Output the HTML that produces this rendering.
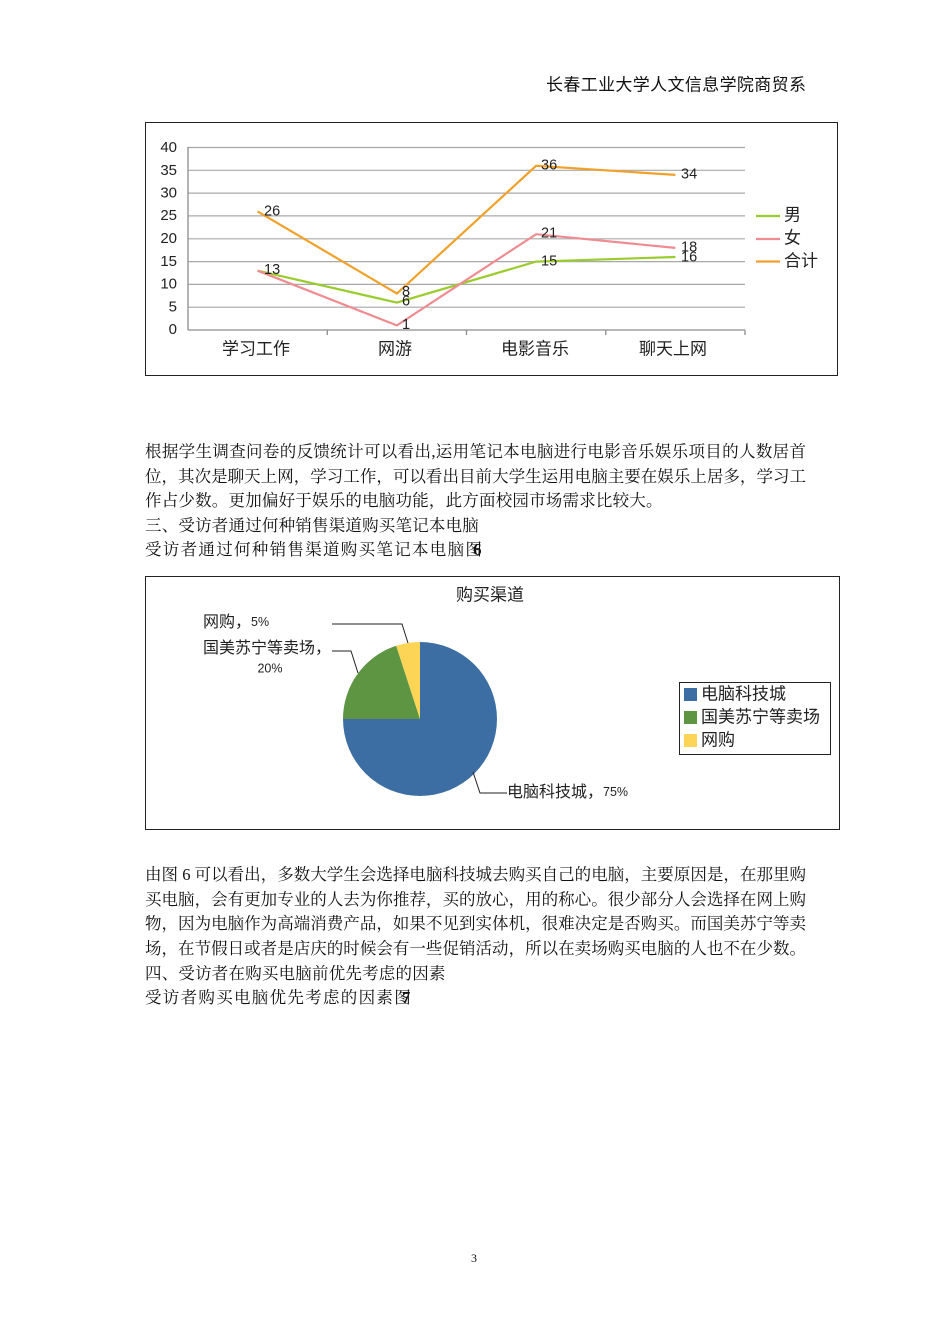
<!DOCTYPE html>
<html>
<head>
<meta charset="utf-8">
<style>
html,body{margin:0;padding:0;background:#fff;}
body{width:950px;height:1344px;position:relative;overflow:hidden;}
.ln{position:absolute;left:145px;font-family:"Liberation Serif","Noto Serif CJK SC",serif;font-size:16.5px;line-height:22px;color:#111;white-space:nowrap;letter-spacing:0.2px;}
.j{width:661px;text-align:justify;text-align-last:justify;white-space:normal;letter-spacing:0;}
.cap{letter-spacing:1.3px;}
.pg{position:absolute;left:471px;top:1251px;font-family:"Liberation Serif",serif;font-size:12px;color:#111;}
svg{position:absolute;left:0;top:0;}
.ov{display:inline-block;margin-left:-10px;font-weight:bold;font-family:"Liberation Serif",serif;letter-spacing:0;}
</style>
</head>
<body>

<svg width="950" height="1344" viewBox="0 0 950 1344" xmlns="http://www.w3.org/2000/svg">
  <text x="546" y="86" textLength="260" lengthAdjust="spacing" font-family="Liberation Sans, Noto Sans CJK SC, sans-serif" font-size="17" fill="#111" dominant-baseline="middle">长春工业大学人文信息学院商贸系</text>

  <!-- Line chart box -->
  <rect x="145.5" y="122.5" width="692" height="253" fill="#fff" stroke="#222" stroke-width="1"/>
  <g stroke="#a8a8a8" stroke-width="1.2">
    <line x1="188" y1="147.5" x2="745" y2="147.5"/>
    <line x1="188" y1="170.3" x2="745" y2="170.3"/>
    <line x1="188" y1="193.1" x2="745" y2="193.1"/>
    <line x1="188" y1="215.9" x2="745" y2="215.9"/>
    <line x1="188" y1="238.8" x2="745" y2="238.8"/>
    <line x1="188" y1="261.6" x2="745" y2="261.6"/>
    <line x1="188" y1="284.4" x2="745" y2="284.4"/>
    <line x1="188" y1="307.2" x2="745" y2="307.2"/>
  </g>
  <g stroke="#8c8c8c" stroke-width="1.3">
    <line x1="188" y1="147" x2="188" y2="330"/>
    <line x1="188" y1="330" x2="745" y2="330"/>
    <line x1="327.3" y1="330" x2="327.3" y2="335"/>
    <line x1="466.5" y1="330" x2="466.5" y2="335"/>
    <line x1="605.8" y1="330" x2="605.8" y2="335"/>
    <line x1="745" y1="330" x2="745" y2="335"/>
  </g>
  <g font-family="Liberation Sans, sans-serif" font-size="15" fill="#222" text-anchor="end" dominant-baseline="middle">
    <text x="177" y="148">40</text>
    <text x="177" y="171">35</text>
    <text x="177" y="193.5">30</text>
    <text x="177" y="216">25</text>
    <text x="177" y="239">20</text>
    <text x="177" y="262">15</text>
    <text x="177" y="284.5">10</text>
    <text x="177" y="307.5">5</text>
    <text x="177" y="330">0</text>
  </g>
  <g font-family="Liberation Sans, Noto Sans CJK SC, sans-serif" font-size="17" fill="#222" text-anchor="middle" dominant-baseline="middle">
    <text x="256" y="350">学习工作</text>
    <text x="395" y="350">网游</text>
    <text x="535" y="350">电影音乐</text>
    <text x="673" y="350">聊天上网</text>
  </g>
  <polyline fill="none" stroke="#9BCC2E" stroke-width="2.2" points="257.6,270.7 396.9,302.6 536.1,261.6 675.4,257"/>
  <polyline fill="none" stroke="#EF8C92" stroke-width="2.2" points="257.6,270.7 396.9,325.4 536.1,234.2 675.4,247.9"/>
  <polyline fill="none" stroke="#F0A12A" stroke-width="2.2" points="257.6,211.4 396.9,293.5 536.1,165.8 675.4,174.9"/>
  <g font-family="Liberation Sans, sans-serif" font-size="14.5" fill="#222" dominant-baseline="middle">
    <text x="264" y="211.5">26</text>
    <text x="264" y="270">13</text>
    <text x="402" y="292">8</text>
    <text x="402" y="301.5">6</text>
    <text x="402" y="325">1</text>
    <text x="541" y="165.5">36</text>
    <text x="541" y="233.5">21</text>
    <text x="541" y="261.5">15</text>
    <text x="681" y="174.5">34</text>
    <text x="681" y="247.5">18</text>
    <text x="681" y="257.5">16</text>
  </g>
  <line x1="756" y1="216" x2="780" y2="216" stroke="#9BCC2E" stroke-width="2.2"/>
  <line x1="756" y1="239" x2="780" y2="239" stroke="#EF8C92" stroke-width="2.2"/>
  <line x1="756" y1="261.5" x2="780" y2="261.5" stroke="#F0A12A" stroke-width="2.2"/>
  <g font-family="Liberation Sans, Noto Sans CJK SC, sans-serif" font-size="17" fill="#222" dominant-baseline="middle">
    <text x="784" y="216">男</text>
    <text x="784" y="239">女</text>
    <text x="784" y="262">合计</text>
  </g>

  <!-- Pie chart box -->
  <rect x="145.5" y="576.5" width="694" height="253" fill="#fff" stroke="#222" stroke-width="1"/>
  <text x="490" y="596" font-family="Liberation Sans, Noto Sans CJK SC, sans-serif" font-size="17" fill="#222" text-anchor="middle" dominant-baseline="middle">购买渠道</text>
  <path d="M420,719 L420,642 A77,77 0 1,1 343,719 Z" fill="#3C6EA3"/>
  <path d="M420,719 L343,719 A77,77 0 0,1 396.2,645.8 Z" fill="#5D9542"/>
  <path d="M420,719 L396.2,645.8 A77,77 0 0,1 420,642 Z" fill="#FDD556"/>
  <g fill="none" stroke="#222" stroke-width="1">
    <polyline points="332,624 402,624 408,643"/>
    <polyline points="332,651 351,651 358,673"/>
    <polyline points="473,772 480,793 507,793"/>
  </g>
  <g font-family="Liberation Sans, Noto Sans CJK SC, sans-serif" fill="#222" dominant-baseline="middle">
    <text x="203" y="623" font-size="16">网购，<tspan font-size="12.5">5%</tspan></text>
    <text x="203" y="649" font-size="16">国美苏宁等卖场，</text>
    <text x="270" y="669" font-size="12.5" text-anchor="middle">20%</text>
    <text x="507" y="793" font-size="16">电脑科技城，<tspan font-size="12.5">75%</tspan></text>
  </g>
  <rect x="679.5" y="682.5" width="151" height="72" fill="#fff" stroke="#222" stroke-width="1"/>
  <rect x="684" y="688" width="13" height="13" fill="#3C6EA3"/>
  <rect x="684" y="711" width="13" height="13" fill="#5D9542"/>
  <rect x="684" y="734" width="13" height="13" fill="#FDD556"/>
  <g font-family="Liberation Sans, Noto Sans CJK SC, sans-serif" font-size="17" fill="#222" dominant-baseline="middle">
    <text x="701" y="695">电脑科技城</text>
    <text x="701" y="718">国美苏宁等卖场</text>
    <text x="701" y="741">网购</text>
  </g>
</svg>

<div class="ln j" style="top:441px;">根据学生调查问卷的反馈统计可以看出,运用笔记本电脑进行电影音乐娱乐项目的人数居首</div>
<div class="ln j" style="top:466px;">位，其次是聊天上网，学习工作，可以看出目前大学生运用电脑主要在娱乐上居多，学习工</div>
<div class="ln" style="top:490px;">作占少数。更加偏好于娱乐的电脑功能，此方面校园市场需求比较大。</div>
<div class="ln" style="top:515px;">三、受访者通过何种销售渠道购买笔记本电脑</div>
<div class="ln cap" style="top:539px;">受访者通过何种销售渠道购买笔记本电脑图<span class="ov">6</span></div>

<div class="ln j" style="top:864px;">由图 6 可以看出，多数大学生会选择电脑科技城去购买自己的电脑，主要原因是，在那里购</div>
<div class="ln j" style="top:889px;">买电脑，会有更加专业的人去为你推荐，买的放心，用的称心。很少部分人会选择在网上购</div>
<div class="ln j" style="top:913px;">物，因为电脑作为高端消费产品，如果不见到实体机，很难决定是否购买。而国美苏宁等卖</div>
<div class="ln j" style="top:938px;">场，在节假日或者是店庆的时候会有一些促销活动，所以在卖场购买电脑的人也不在少数。</div>
<div class="ln" style="top:963px;">四、受访者在购买电脑前优先考虑的因素</div>
<div class="ln cap" style="top:987px;">受访者购买电脑优先考虑的因素图<span class="ov">7</span></div>

<div class="pg">3</div>
</body>
</html>
